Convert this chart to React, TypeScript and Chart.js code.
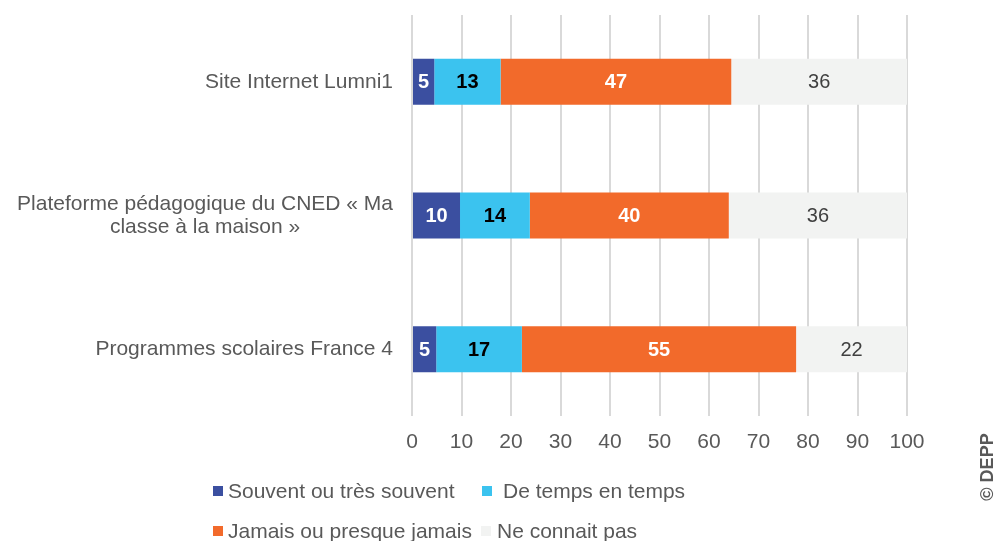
import { useEffect, useRef } from "react";
import { Chart, registerables } from "chart.js";

Chart.register(...registerables);

const categories: (string | string[])[] = [
  "Site Internet Lumni1",
  ["Plateforme pédagogique du CNED « Ma", "classe à la maison »"],
  "Programmes scolaires France 4",
];
const seriesNames = [
  "Souvent ou très souvent",
  "De temps en temps",
  "Jamais ou presque jamais",
  "Ne connait pas",
];
const souvent = [4.5, 9.7, 4.9];
const deTemps = [13.4, 14.1, 17.3];
const jamais = [46.6, 40.2, 55.4];
const neConnait = [35.5, 36.0, 22.4];
const xTickValues = [0, 10, 20, 30, 40, 50, 60, 70, 80, 90, 100];
const copyright = "© DEPP";

const COLORS = ["#3B4FA0", "#3BC3EF", "#F26A2B", "#F2F3F2"];
const LABEL_COLORS = ["#ffffff", "#000000", "#ffffff", "#404040"];
const LABEL_WEIGHTS = ["bold", "bold", "bold", "normal"];
const FONT = '"Liberation Sans", Arial, sans-serif';
const TEXT = "#595959";

const LEGEND_POS = [
  { sx: 213, tx: 228, y: 491 },
  { sx: 482, tx: 503, y: 491 },
  { sx: 213, tx: 228, y: 531 },
  { sx: 481, tx: 497, y: 531 },
];

const overlayPlugin = {
  id: "overlay",
  afterDatasetsDraw(chart: any) {
    const ctx = chart.ctx as CanvasRenderingContext2D;
    // data labels
    chart.data.datasets.forEach((ds: any, di: number) => {
      const meta = chart.getDatasetMeta(di);
      meta.data.forEach((el: any, i: number) => {
        const v = ds.data[i] as number;
        const cx = (el.x + el.base) / 2;
        ctx.save();
        ctx.font = `${LABEL_WEIGHTS[di]} 20px ${FONT}`;
        ctx.fillStyle = LABEL_COLORS[di];
        ctx.textAlign = "center";
        ctx.textBaseline = "middle";
        ctx.fillText(String(Math.round(v)), cx, el.y + 1);
        ctx.restore();
      });
    });
  },
  afterDraw(chart: any) {
    const ctx = chart.ctx as CanvasRenderingContext2D;
    const yScale = chart.scales.y;
    // category labels
    ctx.save();
    ctx.font = `21px ${FONT}`;
    ctx.fillStyle = TEXT;
    ctx.textBaseline = "middle";
    ctx.textAlign = "center";
    const rightEdge = chart.chartArea.left - 19;
    categories.forEach((cat, i) => {
      const lines = Array.isArray(cat) ? cat : [cat];
      const w = Math.max(...lines.map((l) => ctx.measureText(l).width));
      const cx = rightEdge - w / 2;
      const cy = yScale.getPixelForValue(i);
      const lh = 23;
      lines.forEach((l, k) => {
        const y = cy + (k - (lines.length - 1) / 2) * lh;
        ctx.fillText(l, cx, y);
      });
    });
    ctx.restore();

    // legend
    ctx.save();
    ctx.font = `21px ${FONT}`;
    ctx.textBaseline = "middle";
    ctx.textAlign = "left";
    chart.data.datasets.forEach((ds: any, di: number) => {
      const p = LEGEND_POS[di];
      ctx.fillStyle = ds.backgroundColor;
      ctx.fillRect(p.sx, p.y - 5, 10, 10);
      ctx.fillStyle = TEXT;
      ctx.fillText(ds.label, p.tx, p.y + 1);
    });
    ctx.restore();

    // copyright
    ctx.save();
    ctx.translate(988, 467);
    ctx.rotate(-Math.PI / 2);
    ctx.font = `bold 18px ${FONT}`;
    ctx.fillStyle = TEXT;
    ctx.textAlign = "center";
    ctx.textBaseline = "middle";
    ctx.fillText(copyright, 0, 0);
    ctx.restore();
  },
};

export default function App() {
  const ref = useRef<HTMLCanvasElement | null>(null);
  useEffect(() => {
    document.body.style.margin = "0";
    const canvas = ref.current;
    if (!canvas) return;
    const values = [souvent, deTemps, jamais, neConnait];
    const chart = new Chart(canvas, {
      type: "bar",
      data: {
        labels: categories as any,
        datasets: values.map((d, i) => ({
          label: seriesNames[i],
          data: d,
          backgroundColor: COLORS[i],
          borderWidth: 0,
          barPercentage: 0.344,
          categoryPercentage: 1,
        })),
      },
      options: {
        indexAxis: "y",
        animation: false,
        responsive: false,
        devicePixelRatio: 1,
        layout: { padding: { left: 412, right: 96, top: 15, bottom: 85 } },
        plugins: {
          legend: { display: false },
          tooltip: { enabled: false },
        },
        scales: {
          x: {
            stacked: true,
            min: 0,
            max: 100,
            position: "bottom",
            afterBuildTicks: (s: any) => {
              s.ticks = xTickValues.map((v) => ({ value: v }));
            },
            afterFit: (s: any) => {
              s.height = 40;
            },
            grid: { color: "#D9D9D9", lineWidth: 2, drawTicks: false },
            border: { display: false },
            ticks: {
              padding: 14,
              color: TEXT,
              font: { size: 21, family: FONT },
              maxRotation: 0,
            },
          },
          y: {
            stacked: true,
            display: false,
          },
        },
      },
      plugins: [overlayPlugin],
    });
    return () => chart.destroy();
  }, []);
  return (
    <div style={{ position: "relative", width: 1003, height: 541 }}>
      <canvas ref={ref} width={1003} height={541} style={{ display: "block" }} />
    </div>
  );
}
